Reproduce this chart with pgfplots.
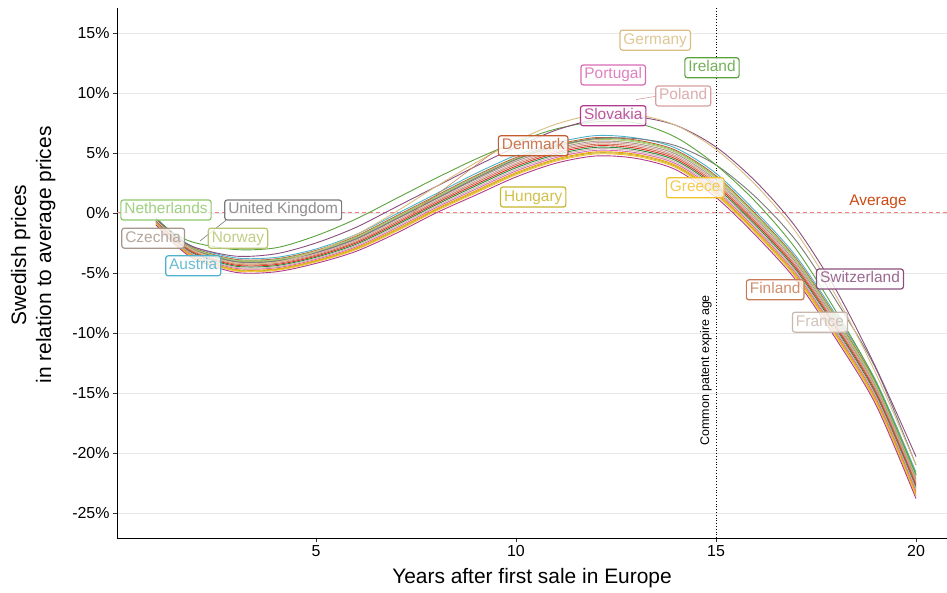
\documentclass[border=0pt]{standalone}
\usepackage{pgfplots}
\usepackage{pgfplotstable}
\pgfplotsset{compat=1.18}
\usepackage{fontspec}
\setmainfont{Liberation Sans}
\definecolor{cAT}{HTML}{4DB2CC}
\definecolor{cDK}{HTML}{C55B30}
\definecolor{cNL}{HTML}{8DC86A}
\definecolor{cNO}{HTML}{B7C46E}
\definecolor{cCZ}{HTML}{A6968C}
\definecolor{cPL}{HTML}{D6A0A0}
\definecolor{cFI}{HTML}{C77C56}
\definecolor{cBE}{HTML}{E0302B}
\definecolor{cIT}{HTML}{2E8B3A}
\definecolor{cFR}{HTML}{C9B7AD}
\definecolor{cPT}{HTML}{D96BB5}
\definecolor{cES}{HTML}{F0A000}
\definecolor{cHU}{HTML}{C6B62A}
\definecolor{cGR}{HTML}{F2C12E}
\definecolor{cSK}{HTML}{B03A8E}
\definecolor{cUK}{HTML}{7A7A7A}
\definecolor{cIE}{HTML}{5AA33C}
\definecolor{cCH}{HTML}{8A4E7E}
\definecolor{cDE}{HTML}{D8BE82}
\definecolor{avgline}{HTML}{F27C7C}
\definecolor{avgtext}{HTML}{CC4A12}

\pgfplotstableread{
x    AT     DK     NL     NO     CZ     PL     FI     BE     IT     FR     PT     ES     HU     GR     SK     UK     IE     CH     DE
1    -0.40  -0.46  -0.49  -0.52  -0.57  -0.61  -0.66  -0.70  -0.75  -0.79  -0.84  -0.88  -0.91  -0.94  -1.00  -0.55  -0.50  -0.50  -0.60
1.5  -1.90  -1.98  -2.02  -2.06  -2.12  -2.18  -2.24  -2.30  -2.36  -2.42  -2.48  -2.54  -2.58  -2.62  -2.70  -2.10  -1.80  -2.00  -2.10
2    -2.90  -3.00  -3.05  -3.10  -3.18  -3.25  -3.33  -3.40  -3.48  -3.55  -3.63  -3.70  -3.75  -3.80  -3.90  -3.15  -2.50  -2.90  -3.20
3    -3.75  -3.87  -3.93  -3.99  -4.08  -4.17  -4.26  -4.35  -4.44  -4.53  -4.62  -4.71  -4.77  -4.83  -4.95  -4.05  -3.05  -3.60  -4.20
4    -3.70  -3.82  -3.88  -3.94  -4.03  -4.12  -4.21  -4.30  -4.39  -4.48  -4.57  -4.66  -4.72  -4.78  -4.90  -4.00  -2.90  -3.40  -4.10
5    -3.00  -3.12  -3.18  -3.24  -3.33  -3.42  -3.51  -3.60  -3.69  -3.78  -3.87  -3.96  -4.02  -4.08  -4.20  -3.30  -1.90  -2.50  -3.20
6    -1.80  -1.94  -2.01  -2.08  -2.19  -2.29  -2.40  -2.50  -2.61  -2.71  -2.82  -2.92  -2.99  -3.06  -3.20  -2.15  -0.50  -1.20  -1.80
7    -0.10  -0.26  -0.34  -0.42  -0.54  -0.66  -0.78  -0.90  -1.02  -1.14  -1.26  -1.38  -1.46  -1.54  -1.70  -0.50   1.20   0.50   0.10
8     1.60   1.44   1.36   1.28   1.16   1.04   0.92   0.80   0.68   0.56   0.44   0.32   0.24   0.16   0.00   1.20   2.90   2.20   2.20
9     3.30   3.12   3.03   2.94   2.81   2.67   2.54   2.40   2.27   2.13   2.00   1.86   1.77   1.68   1.50   2.90   4.50   3.90   4.20
10    4.80   4.62   4.53   4.44   4.31   4.17   4.04   3.90   3.77   3.63   3.50   3.36   3.27   3.18   3.00   4.45   5.90   5.50   6.00
11    5.85   5.68   5.60   5.51   5.38   5.26   5.13   5.00   4.87   4.75   4.62   4.49   4.41   4.32   4.15   5.55   7.00   6.90   7.40
12    6.45   6.28   6.20   6.11   5.98   5.86   5.73   5.60   5.47   5.35   5.22   5.09   5.01   4.92   4.75   6.20   7.60   7.80   8.20
13    6.25   6.08   6.00   5.91   5.78   5.66   5.53   5.40   5.27   5.15   5.02   4.89   4.81   4.72   4.55   6.20   7.50   8.00   8.20
14    5.40   5.22   5.13   5.04   4.91   4.77   4.64   4.50   4.37   4.23   4.10   3.96   3.87   3.78   3.60   5.60   6.30   7.30   7.30
15    3.30   3.10   3.00   2.90   2.75   2.60   2.45   2.30   2.15   2.00   1.85   1.70   1.60   1.50   1.30   4.00   4.00   5.50   5.30
16    0.10  -0.10  -0.20  -0.30  -0.45  -0.60  -0.75  -0.90  -1.05  -1.20  -1.35  -1.50  -1.60  -1.70  -1.90   1.30   0.90   2.60   2.30
17   -3.60  -3.80  -3.90  -4.00  -4.15  -4.30  -4.45  -4.60  -4.75  -4.90  -5.05  -5.20  -5.30  -5.40  -5.60  -2.30  -3.00  -1.20  -1.60
18   -8.50  -8.70  -8.80  -8.90  -9.05  -9.20  -9.35  -9.50  -9.65  -9.80  -9.95 -10.10 -10.20 -10.30 -10.50  -7.30  -8.20  -6.40  -6.90
19  -14.00 -14.20 -14.30 -14.40 -14.55 -14.70 -14.85 -15.00 -15.15 -15.30 -15.45 -15.60 -15.70 -15.80 -16.00 -13.00 -14.10 -12.90 -13.40
20  -21.60 -21.82 -21.93 -22.04 -22.20 -22.37 -22.54 -22.70 -22.87 -23.03 -23.20 -23.36 -23.47 -23.58 -23.80 -21.00 -21.80 -20.30 -21.00
}\prices

\tikzset{
  lbl/.style={rounded corners=2.5bp, line width=1.2bp, draw=#1, text=#1!85!white,
    fill=white, fill opacity=0.8, text opacity=1, inner xsep=3.5bp, inner ysep=2.5bp,
    text height=11.5bp, text depth=3.5bp, font=\fontsize{15.5}{18}\selectfont},
  cl/.style={color=#1, line width=0.9bp, smooth, no markers}
}

\begin{document}
\begin{tikzpicture}
\begin{axis}[
  width=830bp, height=530bp, scale only axis,
  xmin=0.025, xmax=20.775, ymin=-27.08, ymax=17.08,
  axis x line*=bottom, axis y line*=left,
  axis line style={black, line width=0.8bp, -},
  xtick={5,10,15,20}, xticklabels={5,10,15,20},
  ytick={-25,-20,-15,-10,-5,0,5,10,15},
  yticklabels={-25\%,-20\%,-15\%,-10\%,-5\%,0\%,5\%,10\%,15\%},
  /pgf/number format/assume math mode=true,
  tick align=outside, major tick length=4bp,
  tick style={color=black!80, line width=0.6bp},
  ymajorgrids, grid style={color=black!9, line width=0.6bp},
  xticklabel style={font=\fontsize{16}{19}\selectfont},
  yticklabel style={font=\fontsize{16}{19}\selectfont},
  xlabel={Years after first sale in Europe},
  ylabel={Swedish prices\\in relation to average prices},
  xlabel style={font=\fontsize{21}{25}\selectfont, at={(axis description cs:0.5,-0.0755)}, anchor=center},
  ylabel style={font=\fontsize{21}{25}\selectfont, align=center, at={(axis description cs:-0.101,0.534)}, anchor=center},
  clip mode=individual,
]
\coordinate (bl) at (rel axis cs:0,0);
\coordinate (tr) at (rel axis cs:1,1);
\addplot[color=avgline, line width=1bp, dash pattern=on 4bp off 3bp, no markers] coordinates {(0.025,0) (20.775,0)};
\addplot[color=black, line width=0.7bp, dash pattern=on 0.8bp off 2bp, no markers] coordinates {(15,-27.08) (15,17.08)};

\addplot[cl=cAT] table[x=x,y=AT]{\prices};
\addplot[cl=cDK] table[x=x,y=DK]{\prices};
\addplot[cl=cNL] table[x=x,y=NL]{\prices};
\addplot[cl=cNO] table[x=x,y=NO]{\prices};
\addplot[cl=cCZ] table[x=x,y=CZ]{\prices};
\addplot[cl=cPL] table[x=x,y=PL]{\prices};
\addplot[cl=cFI] table[x=x,y=FI]{\prices};
\addplot[cl=cBE] table[x=x,y=BE]{\prices};
\addplot[cl=cIT] table[x=x,y=IT]{\prices};
\addplot[cl=cFR] table[x=x,y=FR]{\prices};
\addplot[cl=cPT] table[x=x,y=PT]{\prices};
\addplot[cl=cES] table[x=x,y=ES]{\prices};
\addplot[cl=cHU] table[x=x,y=HU]{\prices};
\addplot[cl=cGR] table[x=x,y=GR]{\prices};
\addplot[cl=cSK] table[x=x,y=SK]{\prices};
\addplot[cl=cUK] table[x=x,y=UK]{\prices};
\addplot[cl=cIE] table[x=x,y=IE]{\prices};
\addplot[cl=cCH] table[x=x,y=CH]{\prices};
\addplot[cl=cDE] table[x=x,y=DE]{\prices};

% label connectors
\draw[cUK, line width=0.6bp] (axis cs:2.75,-0.6) -- (axis cs:2.1,-2.33);
\draw[cPL, line width=0.6bp] (axis cs:13.55,9.75) -- (axis cs:13.0,9.45);
\draw[cDK!60!cDE, line width=0.6bp] (axis cs:9.48,5.17) -- (axis cs:7.43,0.08);

\node[text=avgtext, font=\fontsize{15.5}{18}\selectfont] at (axis cs:19.05,0.9) {Average};
\node[rotate=90, font=\fontsize{12.5}{14}\selectfont] at (axis cs:14.75,-13.1) {Common patent expire age};

\node[lbl=cDE] at (axis cs:13.48,14.4) {Germany};
\node[lbl=cIE] at (axis cs:14.9,12.1) {Ireland};
\node[lbl=cPT] at (axis cs:12.43,11.5) {Portugal};
\node[lbl=cPL] at (axis cs:14.18,9.75) {Poland};
\node[lbl=cSK] at (axis cs:12.43,8.1) {Slovakia};
\node[lbl=cDK] at (axis cs:10.43,5.6) {Denmark};
\node[lbl=cHU] at (axis cs:10.43,1.33) {Hungary};
\node[lbl=cGR] at (axis cs:14.48,2.1) {Greece};
\node[lbl=cNL] at (axis cs:1.25,0.25) {Netherlands};
\node[lbl=cUK] at (axis cs:4.18,0.25) {United Kingdom};
\node[lbl=cCZ] at (axis cs:0.93,-2.1) {Czechia};
\node[lbl=cNO] at (axis cs:3.05,-2.1) {Norway};
\node[lbl=cAT] at (axis cs:1.93,-4.4) {Austria};
\node[lbl=cCH] at (axis cs:18.6,-5.5) {Switzerland};
\node[lbl=cFI] at (axis cs:16.48,-6.4) {Finland};
\node[lbl=cFR] at (axis cs:17.6,-9.1) {France};
\end{axis}
\pgfresetboundingbox
\path ([xshift=-117bp,yshift=-55bp]bl) rectangle ([yshift=8bp]tr);
\end{tikzpicture}
\end{document}
